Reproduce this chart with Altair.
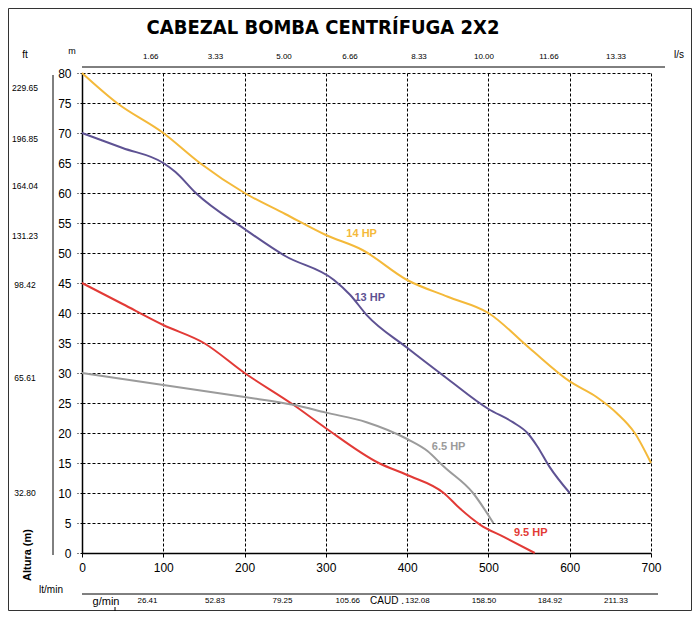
import altair as alt
import pandas as pd

# ---- data ----
x14 = [0, 43, 100, 145, 200, 250, 300, 345, 400, 450, 500, 550, 600, 633, 658, 680, 700]
y14 = [80, 75, 70, 65, 60, 56.5, 53, 50.5, 45.5, 42.7, 40, 34.2, 28.6, 26, 23.3, 20, 15]
x13 = [0, 50, 100, 115, 140, 200, 250, 310, 330, 350, 400, 450, 500, 530, 548, 560, 575, 600]
y13 = [70, 67.5, 65, 63.5, 60, 54, 49.5, 45.5, 43, 39.7, 34.2, 29, 24, 21.8, 20, 17.8, 14.4, 10]
x95 = [0, 50, 100, 150, 200, 260, 300, 365, 400, 445, 465, 490, 520, 557]
y95 = [45, 41.5, 38, 35, 30, 24.7, 20.8, 15, 13, 10, 7.4, 4.7, 2.6, 0]
x65 = [0, 100, 200, 260, 300, 350, 400, 425, 445, 481, 506]
y65 = [30, 28, 26, 24.7, 23.4, 21.8, 19, 17, 14.4, 10, 5]

series = ["14 HP", "13 HP", "9.5 HP", "6.5 HP"]
colors = ["#F4B93A", "#5E5293", "#E23A36", "#9B9B9B"]

lbl_x = [344, 354, 552, 451]
lbl_y = [53.2, 42.5, 3.3, 17.7]

y_ticks = list(range(0, 81, 5))
x_ticks = list(range(0, 701, 100))

ft_labels = ["229.65", "196.85", "164.04", "131.23", "98.42", "65.61", "32.80"]
ft_pos = [77.5, 69, 61.2, 52.8, 44.7, 29.2, 10]

ls_labels = ["1.66", "3.33", "5.00", "6.66", "8.33", "10.00", "11.66", "13.33"]
ls_pos = [84.6, 164.2, 248.5, 329.7, 414.6, 494.5, 574.5, 657]

gmin_labels = ["26.41", "52.83", "79.25", "105.66", "132.08", "158.50", "184.92", "211.33"]
gmin_pos = [80.6, 163.6, 246.6, 327, 412.7, 494.5, 575.7, 657]

# ---- tables ----
rows = []
for name, xs, ys in zip(series, [x14, x13, x95, x65], [y14, y13, y95, y65]):
    for a, b in zip(xs, ys):
        rows.append({"x": a, "y": b, "serie": name})
df = pd.DataFrame(rows)
df_lbl = pd.DataFrame({"x": lbl_x, "y": lbl_y, "serie": series, "t": series})
df_ft = pd.DataFrame({"y": ft_pos, "t": ft_labels})
df_ls = pd.DataFrame({"x": ls_pos, "t": ls_labels})
df_gm = pd.DataFrame({"x": gmin_pos, "t": gmin_labels})

FONT = "Liberation Sans"
W, H = 569, 480

xs = alt.Scale(domain=[0, 700], nice=False)
ys = alt.Scale(domain=[0, 80], nice=False)
X = alt.X("x:Q", scale=xs, title=None,
          axis=alt.Axis(values=x_ticks, grid=True, gridDash=[3, 2], gridColor="black",
                        gridOpacity=1, gridWidth=1, labelFontSize=12, labelColor="black",
                        labelFont=FONT, domainColor="black", domainWidth=1.5, tickColor="black",
                        tickSize=4, labelPadding=5, labelFlush=False))
Y = alt.Y("y:Q", scale=ys, title=None,
          axis=alt.Axis(values=y_ticks, grid=True, gridDash=[3, 2], gridColor="black",
                        gridOpacity=1, gridWidth=1, labelFontSize=12, labelColor="black",
                        labelFont=FONT, domainColor="black", domainWidth=1.5, tickColor="black",
                        tickDash=[2, 2], tickSize=5, labelPadding=6))
color = alt.Color("serie:N", scale=alt.Scale(domain=series, range=colors), legend=None)

one = alt.Data(values=[{}])

lines = alt.Chart(df).mark_line(interpolate="monotone", strokeWidth=2).encode(x=X, y=Y, color=color)
labels = alt.Chart(df_lbl).mark_text(fontWeight="bold", fontSize=11, font=FONT).encode(
    x=X, y=Y, text="t:N", color=color)

ft_txt = alt.Chart(df_ft).mark_text(fontSize=8.5, font=FONT, color="black").encode(
    x=alt.value(-57), y=Y, text="t:N")
ls_txt = alt.Chart(df_ls).mark_text(fontSize=8, font=FONT, color="black").encode(
    x=X, y=alt.value(-16), text="t:N")
gm_txt = alt.Chart(df_gm).mark_text(fontSize=8, font=FONT, color="black").encode(
    x=X, y=alt.value(528), text="t:N")


def txt(s, x, y, size=9, weight="normal", angle=0, font=FONT, align="center"):
    m = alt.Chart(one).mark_text(fontSize=size, fontWeight=weight, angle=angle, font=font,
                                 color="black", align=align, baseline="middle")
    return m.encode(x=alt.value(x), y=alt.value(y), text=alt.value(s))


def rule(x, x2, y, y2):
    return alt.Chart(one).mark_rule(color="black", strokeWidth=1).encode(
        x=alt.value(x), x2=alt.value(x2), y=alt.value(y), y2=alt.value(y2))


border = alt.Chart(one).mark_rect(fill="transparent", stroke="#333333", strokeWidth=1).encode(
    x=alt.value(-73.5), x2=alt.value(609.5), y=alt.value(-64.5), y2=alt.value(537.5))

title = txt("CABEZAL BOMBA CENTRÍFUGA 2X2", 241, -45, size=20, weight="bold",
            font="DejaVu Sans Condensed")

deco = [
    border,
    title,
    rule(0, 583, -6, -6),          # l/s line
    rule(0, 576, 521, 521),        # g/min line
    rule(-29, -29, 2, 482),        # ft line
    rule(33, 33, 534, 538),        # small tick
    txt("ft", -57, -18, size=10),
    txt("m", -10, -22, size=9),
    txt("l/s", 597, -18, size=10),
    txt("lt/min", -31, 517, size=10),
    txt("g/min", 24, 529, size=11),
    txt("CAUD .", 305, 528, size=10),
    txt("Altura (m)", -54, 482, size=11, weight="bold", angle=270),
]

chart = alt.layer(lines, labels, ft_txt, ls_txt, gm_txt, *deco).properties(
    width=W, height=H,
    padding={"left": 74, "top": 65, "right": 41, "bottom": 58},
    autosize=alt.AutoSizeParams(type="none"),
    background="white",
).configure_view(stroke=None)

chart.save("out.html", embed_options={"renderer": "svg", "actions": False})
